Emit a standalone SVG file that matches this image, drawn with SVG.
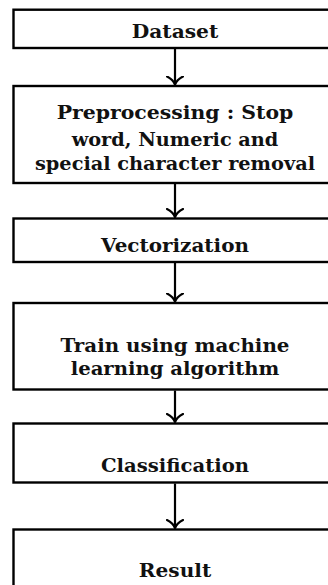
<svg xmlns="http://www.w3.org/2000/svg" width="328" height="585" viewBox="0 0 328 585">
<style>
.box{fill:#fff;stroke:#000;stroke-width:2.4}
.lbl{font-family:"DejaVu Serif","Liberation Serif",serif;font-weight:bold;font-size:18.5px;fill:#111;text-anchor:middle}
.conn{stroke:#000;stroke-width:2.2;fill:none}
.head{stroke:#000;stroke-width:2.2;fill:none;stroke-linecap:round;stroke-linejoin:round}
</style>
<defs>
<marker id="arr" markerUnits="userSpaceOnUse" markerWidth="20" markerHeight="18" refX="9" refY="8" orient="auto" viewBox="0 -1 20 18">
<path d="M1,0 Q4,6 9,8 M9,8 Q4,10 1,16" class="head"/>
</marker>
</defs>
<rect width="328" height="585" fill="#fff"/>
<g id="node-dataset">
<rect class="box" x="13.5" y="9.7" width="330" height="38.3"/>
<text class="lbl" x="175" y="38.3" textLength="86.6" lengthAdjust="spacingAndGlyphs">Dataset</text>
</g>
<g id="node-preprocessing">
<rect class="box" x="13.5" y="86" width="330" height="97"/>
<text class="lbl" x="175" y="119.3" textLength="236.7" lengthAdjust="spacingAndGlyphs">Preprocessing : Stop</text>
<text class="lbl" x="175" y="145.5" textLength="206.7" lengthAdjust="spacingAndGlyphs">word, Numeric and</text>
<text class="lbl" x="175" y="170.3" textLength="280" lengthAdjust="spacingAndGlyphs">special character removal</text>
</g>
<g id="node-vectorization">
<rect class="box" x="13.5" y="218.5" width="330" height="43.5"/>
<text class="lbl" x="175" y="252.3" textLength="148" lengthAdjust="spacingAndGlyphs">Vectorization</text>
</g>
<g id="node-train">
<rect class="box" x="13.5" y="303" width="330" height="86.5"/>
<text class="lbl" x="175" y="351.7" textLength="229" lengthAdjust="spacingAndGlyphs">Train using machine</text>
<text class="lbl" x="175" y="375" textLength="208.6" lengthAdjust="spacingAndGlyphs">learning algorithm</text>
</g>
<g id="node-classification">
<rect class="box" x="13.5" y="423.5" width="330" height="59"/>
<text class="lbl" x="175" y="472.3" textLength="148" lengthAdjust="spacingAndGlyphs">Classification</text>
</g>
<g id="node-result">
<rect class="box" x="13.5" y="529.5" width="330" height="100"/>
<text class="lbl" x="175" y="576.7" textLength="72.4" lengthAdjust="spacingAndGlyphs">Result</text>
</g>
<g id="connectors">
<line class="conn" x1="175" y1="49" x2="175" y2="84.5" marker-end="url(#arr)"/>
<line class="conn" x1="175" y1="184" x2="175" y2="217" marker-end="url(#arr)"/>
<line class="conn" x1="175" y1="263" x2="175" y2="301.5" marker-end="url(#arr)"/>
<line class="conn" x1="175" y1="390.5" x2="175" y2="422" marker-end="url(#arr)"/>
<line class="conn" x1="175" y1="483.5" x2="175" y2="528" marker-end="url(#arr)"/>
</g>
</svg>
